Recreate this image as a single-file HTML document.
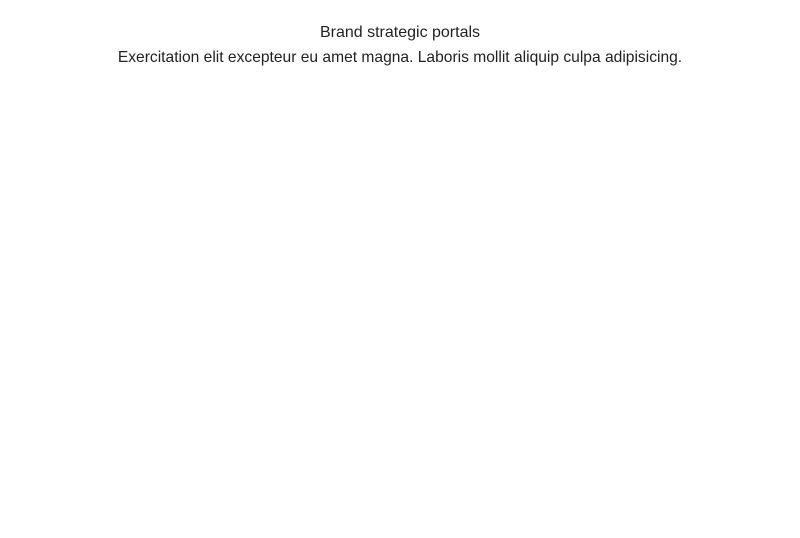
<!DOCTYPE html>
<html>
<head>
<meta charset="utf-8">
<style>
  html, body { margin: 0; padding: 0; background: #fff; }
  #chart { position: relative; width: 800px; height: 538px; overflow: hidden;
    font-family: "Liberation Sans", sans-serif; color: #222; }
  .t { position: absolute; left: 0; width: 800px; text-align: center; white-space: nowrap; }
  #title { top: 24px; font-size: 16px; }
  #subtitle { top: 49px; font-size: 15.6px; }
</style>
</head>
<body>
<div id="chart">
  <div id="title" class="t">Brand strategic portals</div>
  <div id="subtitle" class="t">Exercitation elit excepteur eu amet magna. Laboris mollit aliquip culpa adipisicing.</div>
</div>
</body>
</html>
